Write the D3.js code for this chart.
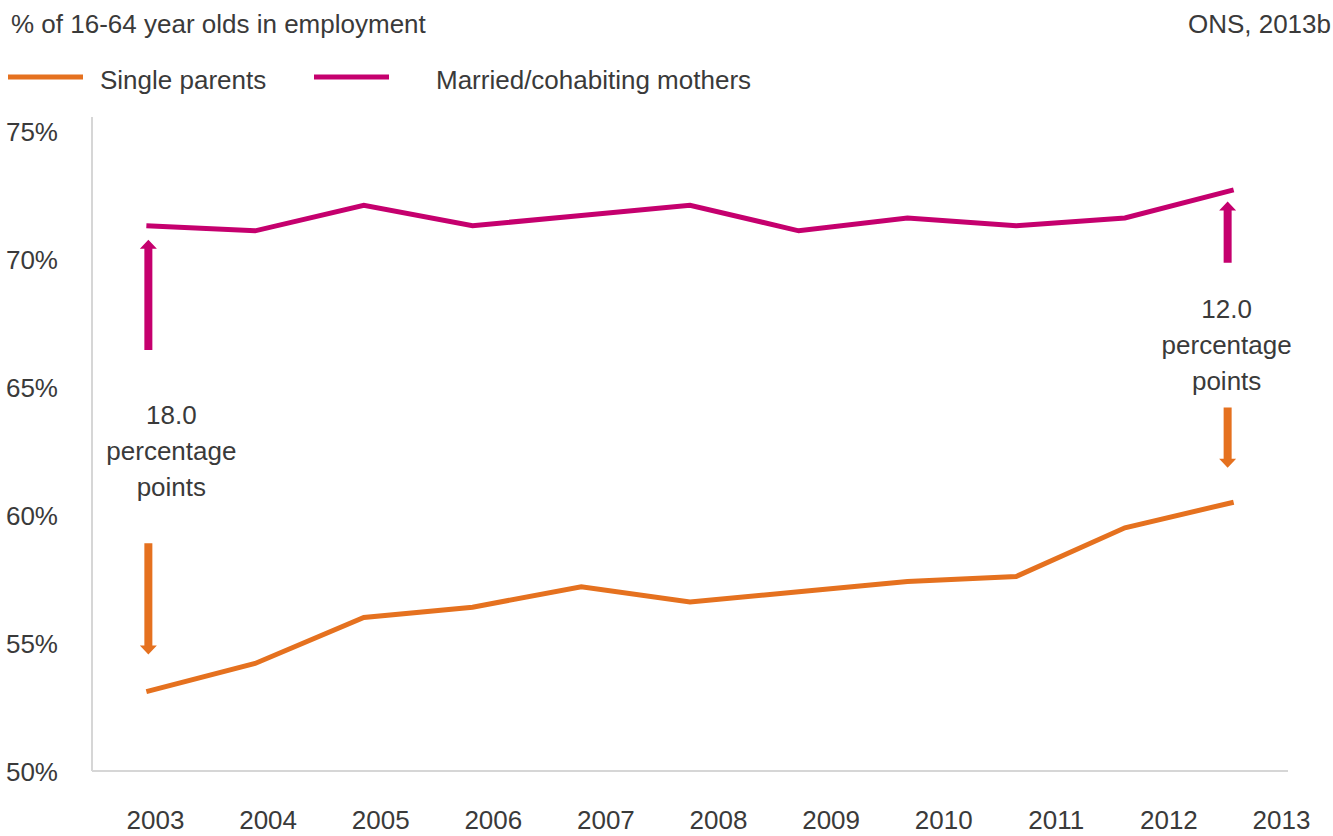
<!DOCTYPE html>
<html>
<head>
<meta charset="utf-8">
<script src="https://cdn.jsdelivr.net/npm/d3@7"></script>
<style>
  html, body { margin: 0; padding: 0; background: #fff; }
  svg { display: block; }
  text { font-family: "Liberation Sans", Arial, sans-serif; fill: #3a3a3a; }
</style>
</head>
<body>
<svg id="chart" width="1333" height="836"></svg>
<script>
const years = [2003, 2004, 2005, 2006, 2007, 2008, 2009, 2010, 2011, 2012, 2013];
const singleParents = [53.1, 54.2, 56.0, 56.4, 57.2, 56.6, 57.0, 57.4, 57.6, 59.5, 60.5];
const marriedMothers = [71.3, 71.1, 72.1, 71.3, 71.7, 72.1, 71.1, 71.6, 71.3, 71.6, 72.7];
const yTicks = [50, 55, 60, 65, 70, 75];
const seriesNames = ["Single parents", "Married/cohabiting mothers"];
const title = "% of 16-64 year olds in employment";
const source = "ONS, 2013b";
// annotation gaps (label, year, arrow extents in % units)
const gapLabels = ["18.0", "12.0"];
const gapYears = [2003, 2013];
const magentaArrows = [[66.45, 70.75], [69.85, 72.25]]; // [tail, tip]
const orangeArrows = [[58.9, 54.55], [64.2, 61.85]];   // [tail, tip]

const C_ORANGE = "#E5711F";
const C_MAGENTA = "#C5006E";
const C_AXIS = "#d6d6d6";
const FS = 26;

const svg = d3.select("#chart");
const plotL = 92, plotR = 1288, plotT = 117, plotB = 771;

const x = d3.scaleBand().domain(years).range([plotL, plotR]).padding(0);
const xc = d => x(d) + x.bandwidth() / 2;
const xLab = d3.scalePoint().domain(years).range([155, 1281]);
const y = d3.scaleLinear().domain([50, 75]).range([plotB, 131]);

// header
svg.append("text").attr("x", 11).attr("y", 33).attr("font-size", FS).text(title);
svg.append("text").attr("x", 1331).attr("y", 33).attr("font-size", FS).attr("text-anchor", "end").text(source);

// legend
const legendItems = [
  { name: seriesNames[0], color: C_ORANGE, x0: 8, tx: 100 },
  { name: seriesNames[1], color: C_MAGENTA, x0: 314, tx: 436 }
];
legendItems.forEach(it => {
  svg.append("line").attr("x1", it.x0).attr("x2", it.x0 + 75).attr("y1", 77).attr("y2", 77)
    .attr("stroke", it.color).attr("stroke-width", 5);
  svg.append("text").attr("x", it.tx).attr("y", 89).attr("font-size", FS).text(it.name);
});

// axes lines
svg.append("line").attr("x1", plotL).attr("x2", plotL).attr("y1", plotT).attr("y2", plotB)
  .attr("stroke", C_AXIS).attr("stroke-width", 2);
svg.append("line").attr("x1", plotL).attr("x2", plotR).attr("y1", plotB).attr("y2", plotB)
  .attr("stroke", C_AXIS).attr("stroke-width", 2);

// y labels
const yAxis = d3.axisLeft(y).tickValues(yTicks).tickFormat(d => d + "%").tickSize(0).tickPadding(0);
const gy = svg.append("g").attr("transform", "translate(58,0)").call(yAxis);
gy.select(".domain").remove();
gy.selectAll("text").attr("font-size", FS).attr("fill", "#3a3a3a")
  .attr("font-family", "Liberation Sans, Arial, sans-serif").attr("dy", "0.35em");

// x labels
const xAxis = d3.axisBottom(xLab).tickSize(0).tickPadding(0);
const gx = svg.append("g").attr("transform", "translate(0,810)").call(xAxis);
gx.select(".domain").remove();
gx.selectAll("text").attr("font-size", FS).attr("fill", "#3a3a3a")
  .attr("font-family", "Liberation Sans, Arial, sans-serif").attr("dy", "0.72em");

// lines
const line = d3.line().x((d, i) => xc(years[i])).y(d => y(d));
svg.append("path").datum(singleParents).attr("d", line).attr("fill", "none")
  .attr("stroke", C_ORANGE).attr("stroke-width", 5).attr("stroke-linejoin", "miter");
svg.append("path").datum(marriedMothers).attr("d", line).attr("fill", "none")
  .attr("stroke", C_MAGENTA).attr("stroke-width", 5).attr("stroke-linejoin", "miter");

// arrows
function arrow(cx, tailV, tipV, color) {
  const yt = y(tailV), yp = y(tipV);
  const dir = yp < yt ? -1 : 1;
  const hl = 9, hw = 8.5, sw = 4;
  const yb = yp - dir * hl;
  const p = d3.path();
  p.moveTo(cx - sw, yt); p.lineTo(cx - sw, yb); p.lineTo(cx - hw, yb);
  p.lineTo(cx, yp); p.lineTo(cx + hw, yb); p.lineTo(cx + sw, yb);
  p.lineTo(cx + sw, yt); p.closePath();
  svg.append("path").attr("d", p.toString()).attr("fill", color);
}
const arrowOffsets = [2, -6];
const textOffsets = [25, -7];
const textBase = [y(63.55), y(67.7)];
gapYears.forEach((yr, i) => {
  const ax = xc(yr) + arrowOffsets[i];
  arrow(ax, magentaArrows[i][0], magentaArrows[i][1], C_MAGENTA);
  arrow(ax, orangeArrows[i][0], orangeArrows[i][1], C_ORANGE);
  const t = svg.append("text").attr("x", xc(yr) + textOffsets[i]).attr("y", textBase[i])
    .attr("font-size", FS).attr("text-anchor", "middle");
  [gapLabels[i], "percentage", "points"].forEach((s, k) => {
    t.append("tspan").attr("x", xc(yr) + textOffsets[i]).attr("dy", k === 0 ? 0 : 36).text(s);
  });
});
</script>
</body>
</html>
